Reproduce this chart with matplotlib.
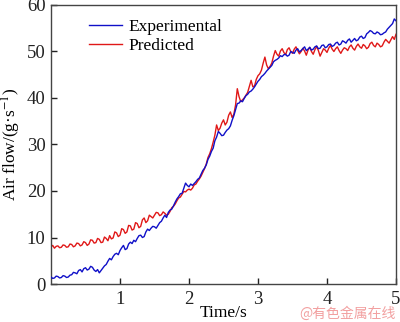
import numpy as np
import matplotlib
matplotlib.use("Agg")
import matplotlib.pyplot as plt

plt.rcParams['font.family'] = ['Liberation Serif', 'DejaVu Serif']
plt.rcParams['mathtext.fontset'] = 'stix'

# time grid (s), 0.025 s steps
time = np.linspace(0, 5, 201)

experimental = [
    1.5, 1.2, 1.3, 1.7, 1.6, 1.3, 1.4, 1.8, 1.7, 1.4,
    1.5, 1.9, 2.0, 2.5, 2.4, 2.2, 2.9, 3.1, 2.6, 3.3,
    3.5, 3.0, 3.2, 3.8, 3.6, 3.0, 2.7, 3.1, 2.4, 2.9,
    3.4, 3.9, 4.2, 4.9, 5.5, 5.2, 5.9, 6.4, 6.6, 6.3,
    7.2, 7.8, 8.3, 7.4, 7.6, 8.6, 9.0, 8.7, 9.4, 9.1,
    9.8, 10.4, 10.5, 10.0, 10.2, 11.2, 11.8, 11.5, 12.0, 12.4,
    12.3, 12.0, 12.6, 13.2, 13.5, 14.2, 14.8, 14.3, 15.4, 15.9,
    16.1, 16.8, 17.6, 18.3, 18.8, 19.4, 19.5, 20.6, 21.7, 21.2,
    20.9, 21.5, 21.2, 21.6, 22.0, 22.5, 22.8, 23.6, 24.4, 24.9,
    25.6, 26.8, 27.5, 28.5, 29.2, 30.8, 31.6, 32.8, 32.4, 31.9,
    32.0, 32.6, 33.1, 33.4, 34.0, 35.2, 36.2, 37.5, 38.8, 38.9,
    39.4, 39.2, 39.9, 40.5, 40.8, 41.3, 41.5, 41.9, 42.4, 43.0,
    43.6, 44.0, 44.6, 44.9, 45.3, 45.8, 46.2, 46.6, 47.0, 47.8,
    48.1, 48.3, 48.6, 49.1, 48.9, 49.3, 49.4, 49.0, 49.2, 50.0,
    49.8, 49.6, 50.3, 50.6, 49.9, 50.2, 50.6, 51.0, 50.2, 50.5,
    50.9, 50.3, 50.5, 51.0, 51.2, 50.6, 50.7, 51.3, 51.4, 50.8,
    51.0, 51.5, 51.6, 51.1, 51.3, 51.8, 52.0, 51.4, 51.6, 52.3,
    52.1, 51.8, 52.4, 52.7, 52.0, 52.4, 52.8, 52.3, 52.5, 53.1,
    53.3, 52.8, 53.0, 53.8, 54.1, 54.5, 54.3, 53.9, 53.8, 54.2,
    54.0, 53.6, 53.7, 54.0, 54.2, 54.8, 55.2, 55.6, 56.0, 57.0,
    56.6]

predicted = [
    8.0, 8.3, 7.7, 8.1, 8.2, 7.8, 7.9, 8.4, 8.3, 7.9,
    8.0, 8.6, 8.5, 8.0, 8.2, 8.8, 8.7, 8.2, 8.4, 9.1,
    8.9, 8.3, 8.6, 9.5, 9.4, 8.8, 8.9, 9.8, 9.6, 8.9,
    9.0, 10.1, 9.8, 9.3, 10.4, 9.7, 9.9, 11.2, 11.0, 10.2,
    10.5, 11.9, 11.7, 10.9, 11.2, 12.6, 12.5, 11.6, 11.8, 13.2,
    13.0, 12.1, 12.4, 13.8, 14.2, 13.2, 13.6, 14.8, 14.5, 14.2,
    14.8, 15.4, 15.3, 14.7, 14.9, 15.5, 15.2, 14.8, 15.0, 15.6,
    16.4, 16.7, 17.2, 17.9, 18.5, 18.7, 19.3, 19.9, 19.8, 20.2,
    20.4, 20.2, 20.6, 21.3, 21.5, 22.1, 22.6, 23.2, 24.0, 24.8,
    25.8, 27.2, 28.0, 29.1, 30.5, 32.0, 34.2, 33.0, 33.5, 34.6,
    35.3, 34.2, 34.8, 36.3, 37.0, 35.8, 36.5, 38.5, 42.0, 40.3,
    39.2, 39.6, 40.0, 40.6, 41.2, 42.5, 43.8, 42.4, 42.6, 44.0,
    44.8, 45.2, 46.0, 47.5, 48.8, 47.1, 46.3, 46.8, 47.5, 49.0,
    50.2, 49.4, 49.0, 50.1, 50.6, 49.8, 49.3, 50.4, 50.8, 50.0,
    49.6, 50.5, 51.0, 50.2, 49.5, 50.0, 50.7, 50.1, 49.2, 50.3,
    50.9, 50.0, 49.4, 50.4, 51.1, 50.2, 49.0, 49.8, 50.6, 50.3,
    49.8, 50.7, 51.3, 50.5, 50.0, 50.6, 51.0, 50.2, 49.6, 50.3,
    50.8, 50.6, 50.2, 51.0, 51.4, 50.7, 50.3, 51.1, 51.6, 51.0,
    50.7, 51.5, 51.2, 50.6, 50.9, 51.7, 52.0, 51.3, 51.0, 51.8,
    51.5, 51.0, 51.2, 52.0, 52.6, 52.2, 51.8, 52.5, 53.2, 52.6,
    53.7]

fig = plt.figure(figsize=(4, 3.22), dpi=100)
ax = fig.add_axes([0.1275, 0.118, 0.8625, 0.8665])

ax.plot(time, experimental, color='#1010c8', lw=1.0, label='Experimental', zorder=3)
ax.plot(time, predicted, color='#e01818', lw=1.0, label='Predicted', zorder=2)

ax.set_xlim(0, 5)
ax.set_ylim(0, 60)
ax.set_xticks([1, 2, 3, 4, 5])
ax.set_yticks([0, 10, 20, 30, 40, 50, 60])
ax.tick_params(direction='in', length=4, width=1, labelsize=13.5, colors='#222222')
ax.tick_params(axis='x', pad=5)
ax.tick_params(axis='y', pad=4)
for s in ax.spines.values():
    s.set_color('#444444')
    s.set_linewidth(1.0)

ax.set_xlabel('Time/s', fontsize=12.5, labelpad=-2)
ax.set_ylabel('Air flow/(g·s$^{-1}$)', fontsize=12.5, labelpad=3)

ax.legend(loc='upper left', bbox_to_anchor=(0.09, 0.975), frameon=False,
          fontsize=12.5, handlelength=1.9, handletextpad=0.4,
          labelspacing=0.15, borderaxespad=0)

fig.text(0.988, 0.004, '@有色金属在线', color='#f2a0a0', fontsize=10,
         ha='right', va='bottom', family=['Noto Sans CJK SC', 'DejaVu Sans'])

fig.savefig('out.png', dpi=100)
